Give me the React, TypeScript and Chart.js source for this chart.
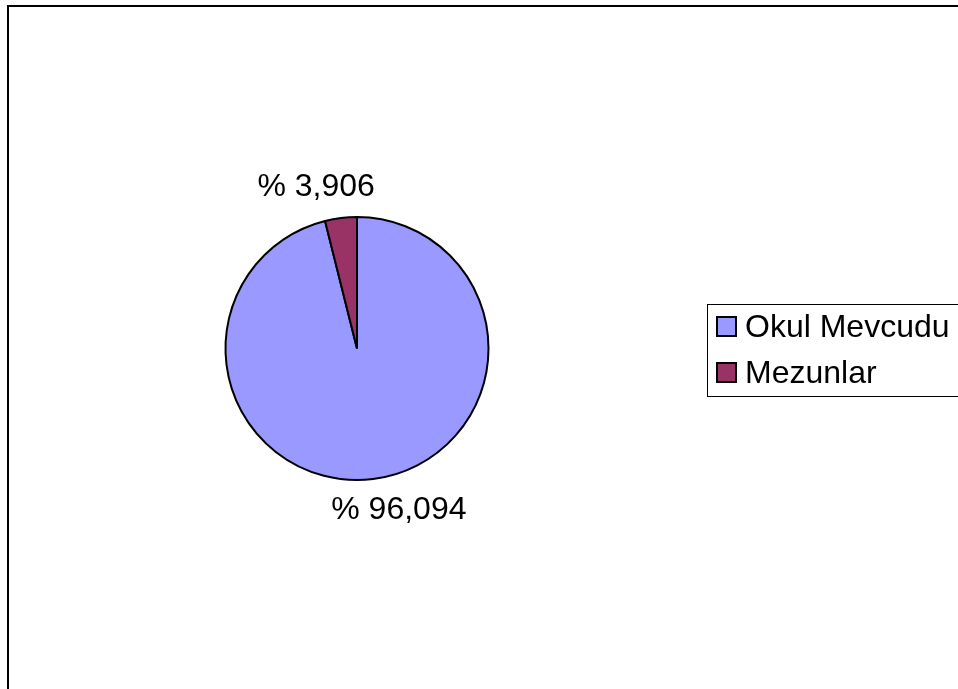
import React, { useEffect, useRef } from "react";
import { Chart, registerables } from "chart.js";

Chart.register(...registerables);

const categories = ["Okul Mevcudu", "Mezunlar"];
const percentages = [96.094, 3.906];
const sliceColors = ["#9999FF", "#993366"];
const percentLabels = ["% 96,094", "% 3,906"];

const FONT = "'Liberation Sans', Arial, Helvetica, sans-serif";

const framePlugin = {
  id: "frame",
  beforeDraw(chart: any) {
    const ctx = chart.ctx;
    ctx.save();
    ctx.fillStyle = "#ffffff";
    ctx.fillRect(0, 0, chart.width, chart.height);
    ctx.strokeStyle = "#000000";
    ctx.lineWidth = 2;
    ctx.strokeRect(8, 6, chart.width + 20, chart.height + 20);
    ctx.restore();
  },
};

const labelsPlugin = {
  id: "outerLabels",
  afterDatasetsDraw(chart: any) {
    const ctx = chart.ctx;
    const meta = chart.getDatasetMeta(0);
    ctx.save();
    ctx.font = `32px ${FONT}`;
    ctx.fillStyle = "#000000";
    ctx.textAlign = "center";
    ctx.textBaseline = "middle";
    meta.data.forEach((arc: any, i: number) => {
      const { x, y, startAngle, endAngle, outerRadius } = arc.getProps(
        ["x", "y", "startAngle", "endAngle", "outerRadius"],
        true
      );
      const mid = (startAngle + endAngle) / 2;
      const d = outerRadius + 31;
      const dx = Math.cos(mid) * d;
      const dy = Math.sin(mid) * d;
      const nudge = dx < 0 ? -21 : 22;
      ctx.fillText(percentLabels[i], x + dx + nudge, y + dy);
    });
    ctx.restore();
  },
};

const legendPlugin = {
  id: "boxLegend",
  afterDraw(chart: any) {
    const ctx = chart.ctx;
    const left = 707;
    const top = 304;
    const rowH = 46;
    ctx.save();
    ctx.strokeStyle = "#000000";
    ctx.lineWidth = 1;
    ctx.strokeRect(left + 0.5, top + 0.5, chart.width, 92);
    ctx.font = `32px ${FONT}`;
    ctx.textAlign = "left";
    ctx.textBaseline = "middle";
    categories.forEach((c, i) => {
      const cy = top + 23 + i * rowH;
      ctx.fillStyle = sliceColors[i];
      ctx.fillRect(717, cy - 10, 19, 19);
      ctx.strokeStyle = "#000000";
      ctx.lineWidth = 2;
      ctx.strokeRect(717, cy - 10, 19, 19);
      ctx.fillStyle = "#000000";
      ctx.fillText(c, 745, cy + 1);
    });
    ctx.restore();
  },
};

export default function App() {
  const ref = useRef<HTMLCanvasElement | null>(null);
  useEffect(() => {
    if (!ref.current) return;
    const chart = new Chart(ref.current, {
      type: "pie",
      data: {
        labels: categories,
        datasets: [
          {
            data: percentages,
            backgroundColor: sliceColors,
            borderColor: "#000000",
            borderWidth: 2,
          },
        ],
      },
      options: {
        responsive: false,
        animation: false,
        radius: 131.5,
        layout: { padding: { left: 20, right: 264, top: 20, bottom: 12 } },
        plugins: {
          legend: { display: false },
          tooltip: { enabled: false },
        },
      } as any,
      plugins: [framePlugin, labelsPlugin, legendPlugin],
    });
    return () => chart.destroy();
  }, []);
  return (
    <div style={{ position: "fixed", left: 0, top: 0, width: 958, height: 689 }}>
      <canvas ref={ref} width={958} height={689} />
    </div>
  );
}
